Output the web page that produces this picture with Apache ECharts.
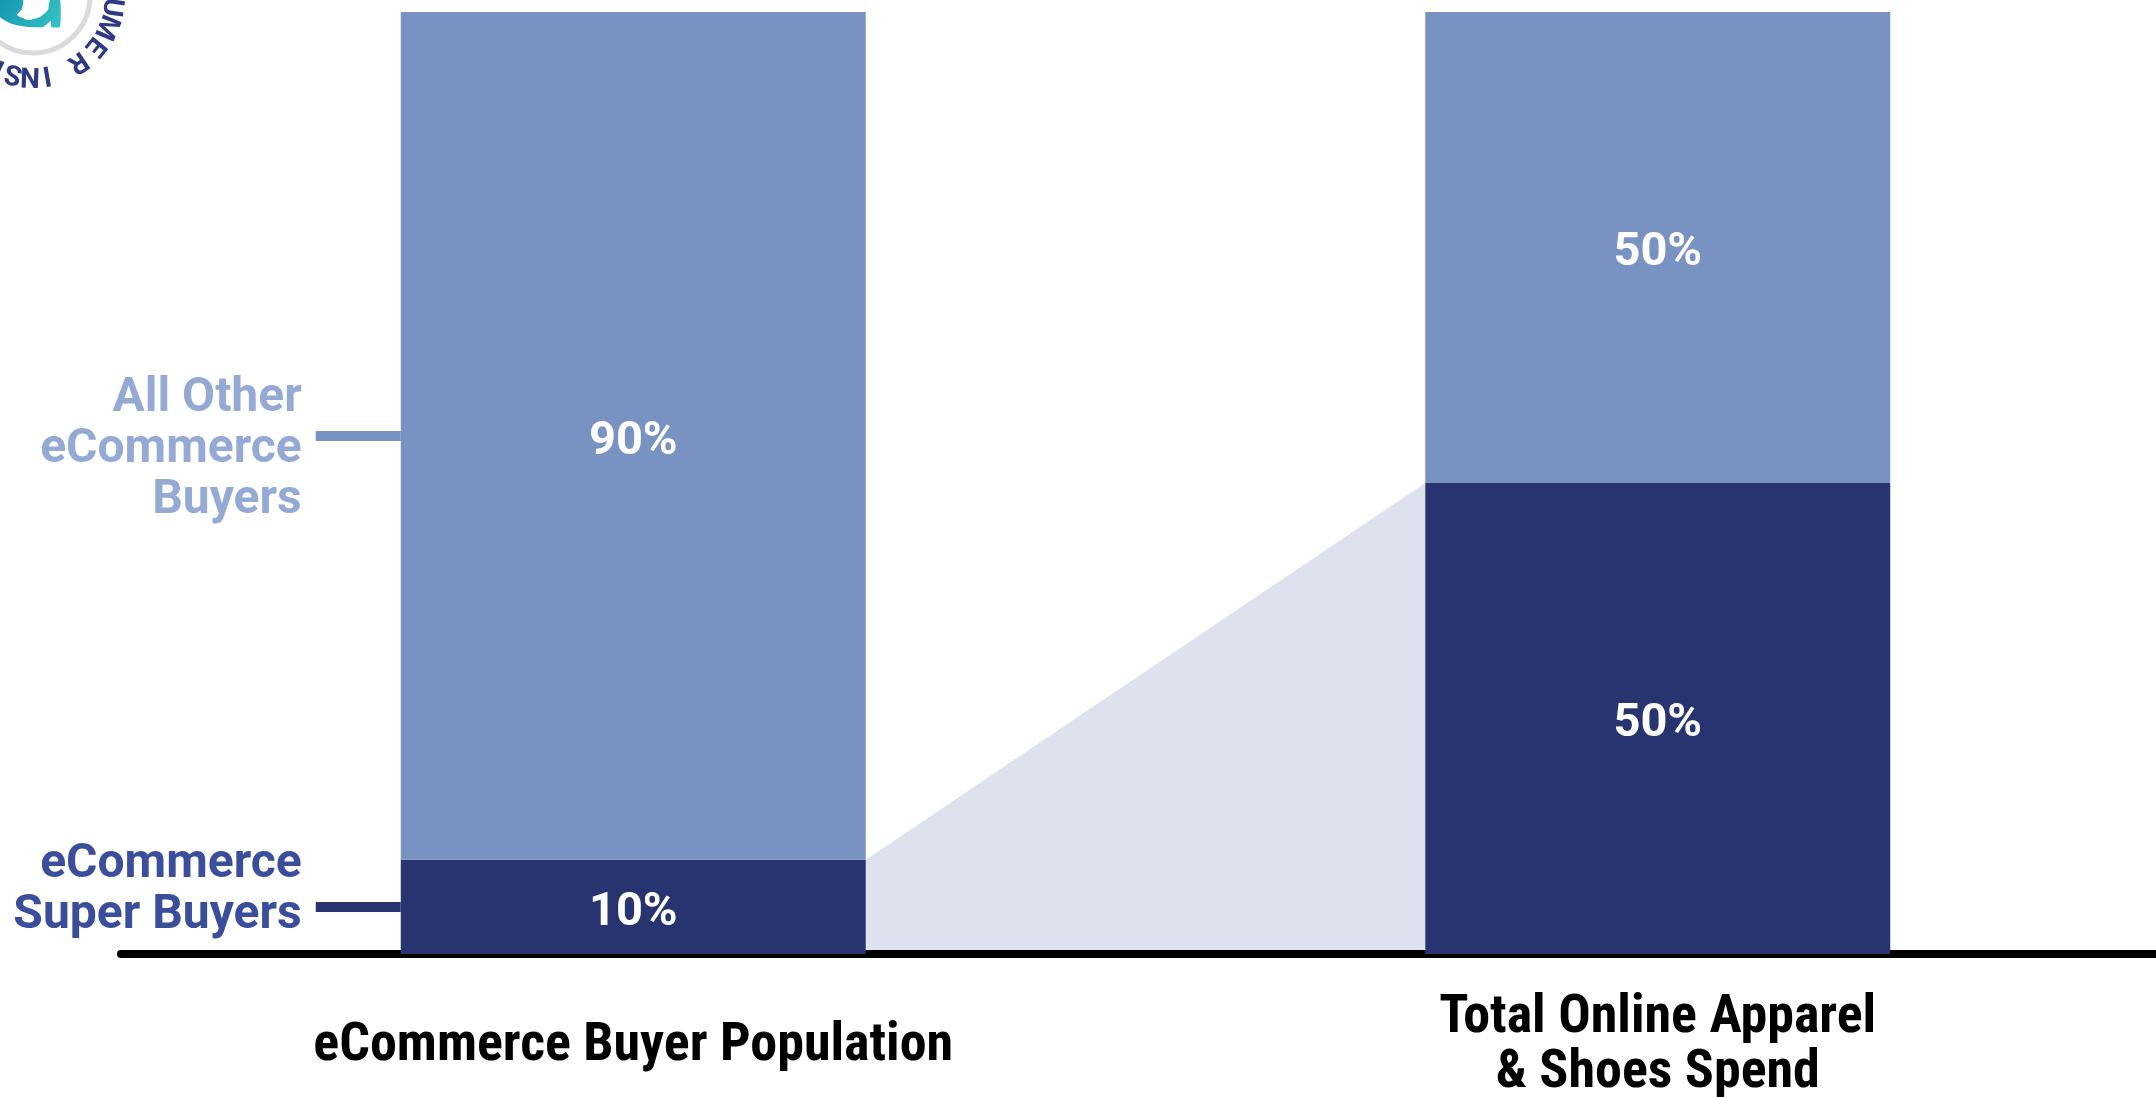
<!DOCTYPE html>
<html>
<head>
<meta charset="utf-8">
<title>Super Buyers share of online apparel &amp; shoes spend</title>
<script src="https://cdn.jsdelivr.net/npm/echarts@6/dist/echarts.min.js"></script>
<style>
  html, body { margin: 0; padding: 0; background: #ffffff; }
  #chart { width: 2156px; height: 1097px; }
</style>
</head>
<body>
<div id="chart"></div>
<script>
// Categories on the x axis
const categories = ['eCommerce Buyer Population', 'Total Online Apparel\n& Shoes Spend'];
// Share (%) held by eCommerce Super Buyers in each column
const superBuyers = [10, 50];
// Share (%) held by all other eCommerce buyers
const allOthers = [90, 50];
// Segment names shown beside the first column
const segmentLabels = ['eCommerce\nSuper Buyers', 'All Other\neCommerce\nBuyers'];
// Letters of the badge in the corner
const badgeText = ['U', 'M', 'E', 'R', 'I', 'N', 'S', 'I'];
const badgeAngles = [8, 23, 39, 56, 80, 92, 104, 115];

const LIGHT = '#7892c2';
const DARK = '#283470';
const SHADE = '#dde2ee';
const BAR_W = 465;

const chart = echarts.init(document.getElementById('chart'), null, { renderer: 'canvas' });

// Badge: ring, teal mark and letters laid along a circle
const badge = [];
const cx = 33, cy = -4, rText = 79;
badge.push({
  type: 'circle', shape: { cx: cx, cy: cy, r: 57 },
  style: { fill: 'none', stroke: '#dadada', lineWidth: 5 }, z: 10
});
const teal = {
  type: 'linear', x: 0, y: 0, x2: 1, y2: 1,
  colorStops: [{ offset: 0, color: '#1597b0' }, { offset: 1, color: '#35c3c3' }]
};
badge.push({
  type: 'polygon',
  shape: {
    points: [[0, 0], [23, 0], [22, 9], [17, 15], [28, 20], [40, 17], [48, 10], [50, 0],
             [60, 0], [60, 27], [51, 27], [51, 21], [43, 27], [28, 27], [12, 24], [0, 17]],
    smooth: 0.15
  },
  style: { fill: teal },
  z: 10
});
badgeText.forEach(function (ch, i) {
  const t = badgeAngles[i] * Math.PI / 180;
  badge.push({
    type: 'text',
    x: cx + rText * Math.cos(t),
    y: cy + rText * Math.sin(t),
    rotation: -(t + Math.PI / 2),
    style: {
      text: ch, fill: '#2e3a85', fontSize: 28, fontWeight: 'bold',
      fontFamily: 'Roboto', align: 'center', verticalAlign: 'middle'
    },
    z: 10
  });
});

// Shaded wedge linking the Super Buyers segments of the two columns
function renderWedge(params, api) {
  const a = api.coord([0, superBuyers[0]]);
  const b = api.coord([1, superBuyers[1]]);
  const a0 = api.coord([0, 0]);
  const b0 = api.coord([1, 0]);
  const h = BAR_W / 2;
  return {
    type: 'polygon',
    shape: { points: [[a[0] + h, a[1]], [b[0] - h, b[1]], [b[0] - h, b0[1]], [a[0] + h, a0[1]]] },
    style: { fill: SHADE }
  };
}

// Segment names with connector ticks to the left of the first column
const labelColors = ['#3a4e9c', '#94aad4'];
const tickColors = [DARK, LIGHT];
const textShift = [-16, 14];
function renderSegmentLabel(params, api) {
  const i = params.dataIndex;
  const lo = api.value(1), hi = api.value(2);
  const mid = api.coord([0, (lo + hi) / 2]);
  const left = mid[0] - BAR_W / 2;
  return {
    type: 'group',
    children: [
      {
        type: 'line',
        shape: { x1: left - 85, y1: mid[1], x2: left, y2: mid[1] },
        style: { stroke: tickColors[i], lineWidth: 10 }
      },
      {
        type: 'text',
        x: left - 99,
        y: mid[1] + textShift[i],
        style: {
          text: segmentLabels[i], fill: labelColors[i],
          fontFamily: 'Roboto', fontWeight: 'bold', fontSize: 48, lineHeight: 51,
          align: 'right', verticalAlign: 'middle'
        }
      }
    ]
  };
}

const valueLabel = {
  show: true, position: 'inside', color: '#ffffff', offset: [0, 6],
  fontFamily: 'Roboto', fontWeight: 'bold', fontSize: 47,
  formatter: '{c}%'
};

chart.setOption({
  backgroundColor: '#ffffff',
  animation: false,
  grid: { left: 121, top: 12, width: 2049, height: 942, outerBoundsMode: 'none', containLabel: false },
  xAxis: {
    type: 'category',
    data: categories,
    z: 1.5,
    axisLine: { lineStyle: { color: '#000000', width: 8 } },
    axisTick: { show: false },
    axisLabel: {
      color: '#000000', fontSize: 54, fontWeight: 'bold', lineHeight: 55,
      fontFamily: '"Liberation Sans Narrow", "Roboto Condensed", Roboto, sans-serif',
      margin: 92, verticalAlign: 'middle', interval: 0
    }
  },
  yAxis: { type: 'value', min: 0, max: 100, show: false, splitLine: { show: false } },
  graphic: badge,
  series: [
    {
      type: 'custom', name: 'wedge', z: 1, silent: true,
      renderItem: renderWedge, data: [[0, superBuyers[0]]]
    },
    {
      type: 'bar', name: 'eCommerce Super Buyers', stack: 'total', barWidth: BAR_W, z: 2,
      itemStyle: { color: DARK }, label: valueLabel, data: superBuyers
    },
    {
      type: 'bar', name: 'All Other eCommerce Buyers', stack: 'total', barWidth: BAR_W, z: 2,
      itemStyle: { color: LIGHT }, label: valueLabel, data: allOthers
    },
    {
      type: 'custom', name: 'segment names', z: 3, silent: true,
      renderItem: renderSegmentLabel,
      data: [
        [0, 0, superBuyers[0]],
        [0, superBuyers[0], superBuyers[0] + allOthers[0]]
      ]
    }
  ]
});
</script>
</body>
</html>
